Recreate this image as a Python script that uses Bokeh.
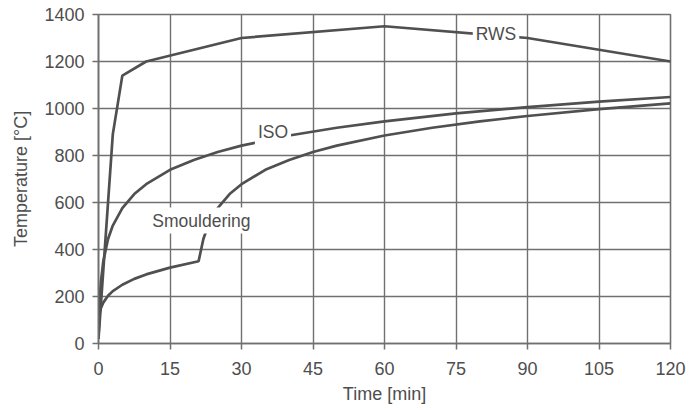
from bokeh.plotting import figure
from bokeh.models import Label, Range1d, FixedTicker
from bokeh.embed import file_html
from bokeh.resources import INLINE

# Time-temperature curves (time in min, temperature in °C)
rws_t = [0, 3, 5, 10, 30, 60, 90, 120]
rws_T = [20, 890, 1140, 1200, 1300, 1350, 1300, 1200]

iso_t = [0, 0.25, 0.5, 1, 2, 3, 5, 7.5, 10, 15, 20, 25, 30, 40, 50, 60, 75, 90, 105, 120]
iso_T = [20, 185, 261, 349, 445, 502, 576, 636, 678, 739, 781, 815, 842, 885, 918, 945, 979, 1006, 1029, 1049]

smo_t = [0, 0.1, 0.25, 0.5, 1, 2, 3, 5, 7.5, 10, 15, 21, 22, 23, 25, 27.5, 30, 35, 40, 45, 50, 60, 70, 80, 90, 105, 120]
smo_T = [20, 107, 129, 150, 174, 203, 223, 250, 275, 294, 323, 350, 445, 502, 576, 636, 678, 739, 781, 815, 842, 885, 918, 945, 968, 997, 1022]

x_ticks = [0, 15, 30, 45, 60, 75, 90, 105, 120]
y_ticks = [0, 200, 400, 600, 800, 1000, 1200, 1400]

# Curve labels: (text, time, temperature)
curve_labels = [("RWS", 83.4, 1315), ("ISO", 36.6, 902), ("Smouldering", 21.6, 523)]

FONT = "Liberation Sans"
TEXT = "#4e4e4e"
GRID = "#707070"
CURVE = "#505050"

p = figure(width=689, height=410, output_backend="svg", toolbar_location=None,
           x_range=Range1d(0, 120), y_range=Range1d(0, 1400),
           min_border_left=98, min_border_right=19, min_border_top=14, min_border_bottom=67)

p.outline_line_color = GRID
p.outline_line_width = 1.6
p.background_fill_color = "white"
p.border_fill_color = "white"

for ax in (p.xaxis[0], p.yaxis[0]):
    ax.axis_line_color = GRID
    ax.axis_line_width = 1.6
    ax.major_tick_line_color = GRID
    ax.major_tick_line_width = 1.5
    ax.major_tick_out = 6
    ax.major_tick_in = 0
    ax.minor_tick_line_color = None
    ax.major_label_text_font = FONT
    ax.major_label_text_font_size = "18px"
    ax.major_label_text_color = TEXT
    ax.axis_label_text_font = FONT
    ax.axis_label_text_font_size = "18px"
    ax.axis_label_text_color = TEXT
    ax.axis_label_text_font_style = "normal"

p.xaxis.ticker = FixedTicker(ticks=x_ticks)
p.yaxis.ticker = FixedTicker(ticks=y_ticks)
p.xaxis.axis_label = "Time [min]"
p.yaxis.axis_label = "Temperature [°C]"
p.xaxis.major_label_standoff = 12
p.yaxis.major_label_standoff = 8
p.xaxis.axis_label_standoff = 6
p.yaxis.axis_label_standoff = 10

for g in (p.xgrid[0], p.ygrid[0]):
    g.grid_line_color = GRID
    g.grid_line_width = 1.4

p.line(rws_t, rws_T, line_color=CURVE, line_width=2.7)
p.line(iso_t, iso_T, line_color=CURVE, line_width=2.7)
p.line(smo_t, smo_T, line_color=CURVE, line_width=2.7)

for txt, t, T in curve_labels:
    p.add_layout(Label(x=t, y=T, text=txt, text_align="center", text_baseline="middle",
                       text_font=FONT, text_font_size="17.5px", text_color=TEXT,
                       background_fill_color="white", padding=3))

open("out.html", "w").write(file_html(p, INLINE))
